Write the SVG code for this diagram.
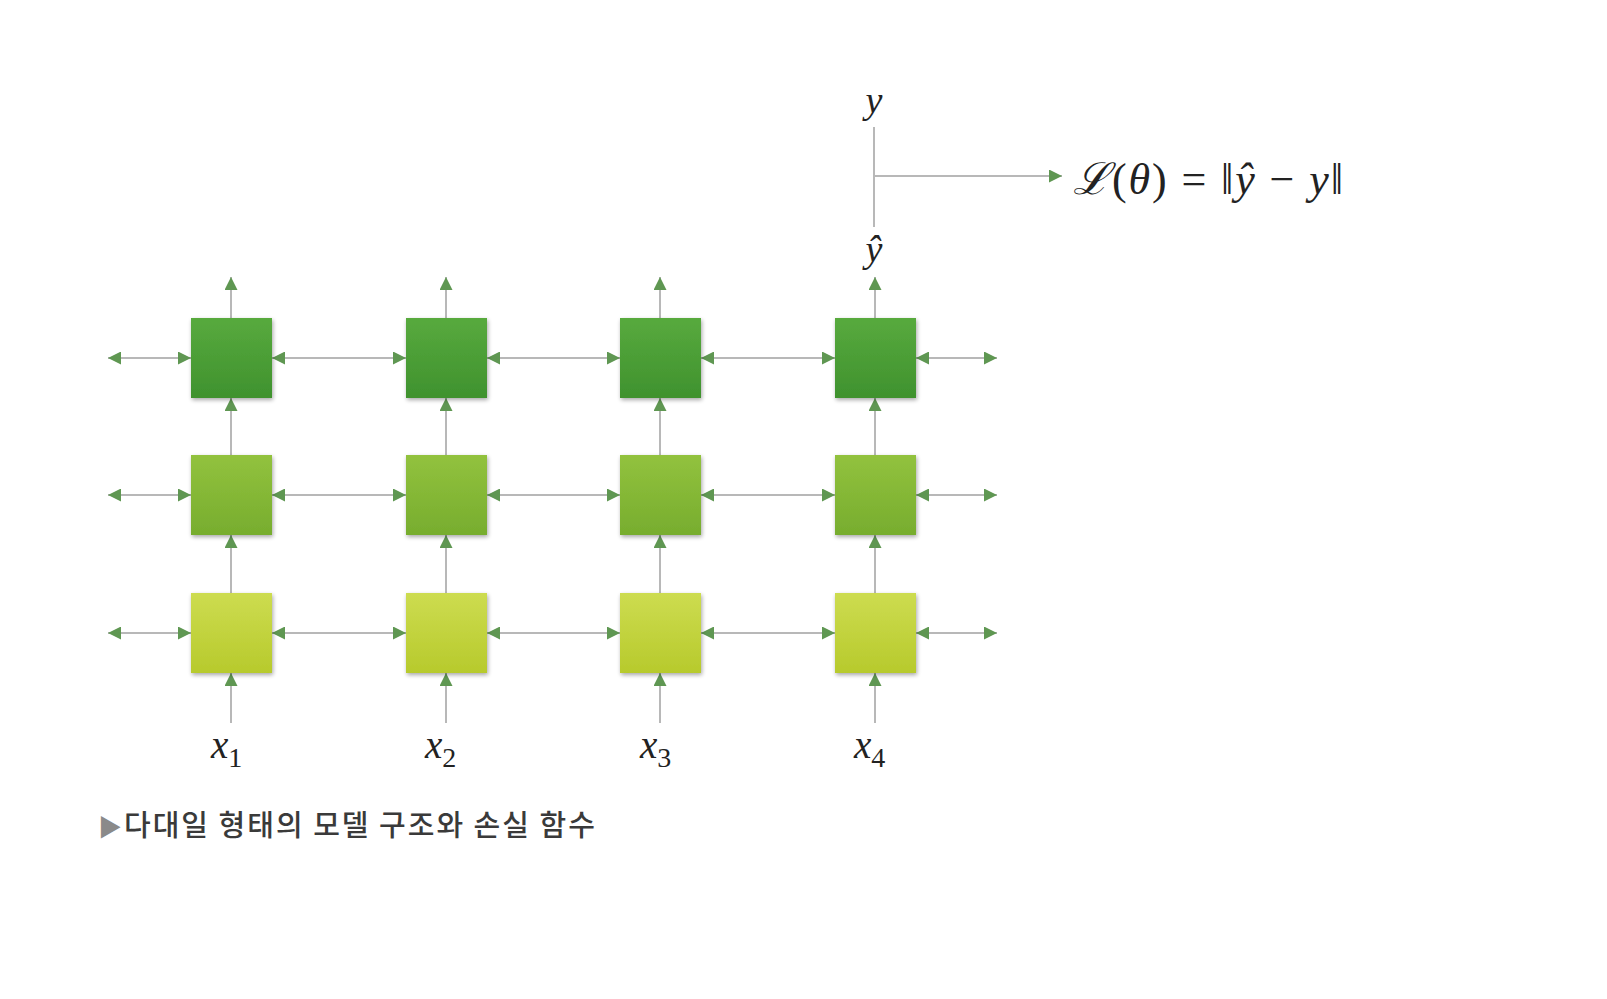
<svg xmlns="http://www.w3.org/2000/svg" width="1607" height="999" viewBox="0 0 1607 999">
<style>
.ln{stroke:#b8b8b8;stroke-width:2;fill:none}
.hl{marker-start:url(#ah);marker-end:url(#ah)}
.vl{marker-end:url(#ah)}
.math{font-family:"Liberation Serif","DejaVu Serif",serif;font-style:italic;fill:#222}
.up{font-style:normal}
.cap{font-family:"Noto Sans CJK KR","Noto Sans",sans-serif;font-size:29px;font-weight:500;letter-spacing:2px;fill:#3a3a3a}
.box{filter:url(#sh)}
</style>
<defs>
<marker id="ah" markerUnits="userSpaceOnUse" markerWidth="13" markerHeight="13" refX="12" refY="6" orient="auto-start-reverse" viewBox="0 0 12 12">
<path d="M0,0 L12,6 L0,12 z" fill="#5f9752"/>
</marker>
<linearGradient id="g1" x1="0" y1="0" x2="0" y2="1"><stop offset="0" stop-color="#58aa3e"/><stop offset="1" stop-color="#3f922e"/></linearGradient>
<linearGradient id="g2" x1="0" y1="0" x2="0" y2="1"><stop offset="0" stop-color="#92c23e"/><stop offset="1" stop-color="#77ad2e"/></linearGradient>
<linearGradient id="g3" x1="0" y1="0" x2="0" y2="1"><stop offset="0" stop-color="#cddc50"/><stop offset="1" stop-color="#b7ca2c"/></linearGradient>
<filter id="sh" x="-20%" y="-20%" width="150%" height="150%"><feGaussianBlur in="SourceAlpha" stdDeviation="2"/><feOffset dx="1" dy="2"/><feComponentTransfer><feFuncA type="linear" slope="0.35"/></feComponentTransfer><feMerge><feMergeNode/><feMergeNode in="SourceGraphic"/></feMerge></filter>
</defs>
<rect width="1607" height="999" fill="#ffffff"/>

<g id="connectors">
<line class="ln hl" x1="108" y1="358" x2="191" y2="358"/>
<line class="ln hl" x1="272" y1="358" x2="406" y2="358"/>
<line class="ln hl" x1="487" y1="358" x2="620" y2="358"/>
<line class="ln hl" x1="701" y1="358" x2="835" y2="358"/>
<line class="ln hl" x1="916" y1="358" x2="997" y2="358"/>
<line class="ln hl" x1="108" y1="495" x2="191" y2="495"/>
<line class="ln hl" x1="272" y1="495" x2="406" y2="495"/>
<line class="ln hl" x1="487" y1="495" x2="620" y2="495"/>
<line class="ln hl" x1="701" y1="495" x2="835" y2="495"/>
<line class="ln hl" x1="916" y1="495" x2="997" y2="495"/>
<line class="ln hl" x1="108" y1="633" x2="191" y2="633"/>
<line class="ln hl" x1="272" y1="633" x2="406" y2="633"/>
<line class="ln hl" x1="487" y1="633" x2="620" y2="633"/>
<line class="ln hl" x1="701" y1="633" x2="835" y2="633"/>
<line class="ln hl" x1="916" y1="633" x2="997" y2="633"/>
<line class="ln vl" x1="231" y1="723" x2="231" y2="673"/>
<line class="ln vl" x1="231" y1="593" x2="231" y2="535"/>
<line class="ln vl" x1="231" y1="455" x2="231" y2="398"/>
<line class="ln vl" x1="231" y1="318" x2="231" y2="277"/>
<line class="ln vl" x1="446" y1="723" x2="446" y2="673"/>
<line class="ln vl" x1="446" y1="593" x2="446" y2="535"/>
<line class="ln vl" x1="446" y1="455" x2="446" y2="398"/>
<line class="ln vl" x1="446" y1="318" x2="446" y2="277"/>
<line class="ln vl" x1="660" y1="723" x2="660" y2="673"/>
<line class="ln vl" x1="660" y1="593" x2="660" y2="535"/>
<line class="ln vl" x1="660" y1="455" x2="660" y2="398"/>
<line class="ln vl" x1="660" y1="318" x2="660" y2="277"/>
<line class="ln vl" x1="875" y1="723" x2="875" y2="673"/>
<line class="ln vl" x1="875" y1="593" x2="875" y2="535"/>
<line class="ln vl" x1="875" y1="455" x2="875" y2="398"/>
<line class="ln vl" x1="875" y1="318" x2="875" y2="277"/>
<line class="ln" x1="874" y1="127" x2="874" y2="227"/>
<line class="ln vl" x1="874" y1="176" x2="1062" y2="176"/>
</g>

<g id="row1">
<rect id="n11" class="box" x="191" y="318" width="81" height="80" fill="url(#g1)"/>
<rect id="n12" class="box" x="406" y="318" width="81" height="80" fill="url(#g1)"/>
<rect id="n13" class="box" x="620" y="318" width="81" height="80" fill="url(#g1)"/>
<rect id="n14" class="box" x="835" y="318" width="81" height="80" fill="url(#g1)"/>
</g>
<g id="row2">
<rect id="n21" class="box" x="191" y="455" width="81" height="80" fill="url(#g2)"/>
<rect id="n22" class="box" x="406" y="455" width="81" height="80" fill="url(#g2)"/>
<rect id="n23" class="box" x="620" y="455" width="81" height="80" fill="url(#g2)"/>
<rect id="n24" class="box" x="835" y="455" width="81" height="80" fill="url(#g2)"/>
</g>
<g id="row3">
<rect id="n31" class="box" x="191" y="593" width="81" height="80" fill="url(#g3)"/>
<rect id="n32" class="box" x="406" y="593" width="81" height="80" fill="url(#g3)"/>
<rect id="n33" class="box" x="620" y="593" width="81" height="80" fill="url(#g3)"/>
<rect id="n34" class="box" x="835" y="593" width="81" height="80" fill="url(#g3)"/>
</g>

<g id="inputs" class="math" font-size="39">
<text x="211" y="758">x<tspan class="up" font-size="28" dy="9">1</tspan></text>
<text x="425" y="758">x<tspan class="up" font-size="28" dy="9">2</tspan></text>
<text x="640" y="758">x<tspan class="up" font-size="28" dy="9">3</tspan></text>
<text x="854" y="758">x<tspan class="up" font-size="28" dy="9">4</tspan></text>
</g>

<g id="outputs" class="math" font-size="38">
<text x="874" y="113" text-anchor="middle">y</text>
<text x="874" y="262" text-anchor="middle">ŷ</text>
</g>

<g id="loss">
<text class="math" x="1073" y="194" font-size="44" textLength="270" lengthAdjust="spacing">ℒ<tspan class="up">(</tspan>θ<tspan class="up">) = ‖</tspan>ŷ<tspan class="up"> − </tspan>y<tspan class="up">‖</tspan></text>
</g>

<g id="caption">
<text class="cap" x="98" y="836"><tspan fill="#8a8a8a" font-size="24">▶</tspan>다대일 형태의 모델 구조와 손실 함수</text>
</g>
</svg>
